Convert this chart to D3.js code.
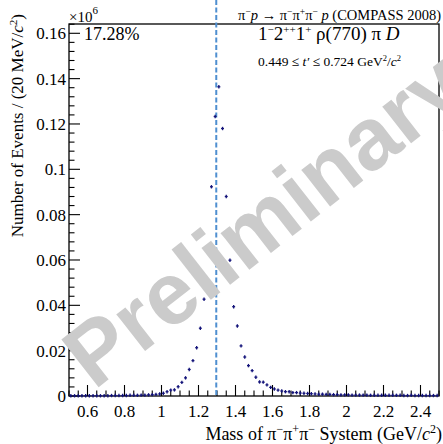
<!DOCTYPE html>
<html>
<head>
<meta charset="utf-8">
<script src="https://cdn.jsdelivr.net/npm/d3@7"></script>
<style>
  html, body { margin: 0; padding: 0; background: #fff; }
  svg { display: block; }
  text { font-family: "Liberation Serif", "Times New Roman", serif; fill: #000; }
</style>
</head>
<body>
<script>
// Mass bin centres (GeV/c^2), 20 MeV bins
const massBins = [
  0.51, 0.53, 0.55, 0.57, 0.59, 0.61, 0.63, 0.65, 0.67, 0.69,
  0.71, 0.73, 0.75, 0.77, 0.79, 0.81, 0.83, 0.85, 0.87, 0.89,
  0.91, 0.93, 0.95, 0.97, 0.99, 1.01, 1.03, 1.05, 1.07, 1.09,
  1.11, 1.13, 1.15, 1.17, 1.19, 1.21, 1.23, 1.25, 1.27, 1.29,
  1.31, 1.33, 1.35, 1.37, 1.39, 1.41, 1.43, 1.45, 1.47, 1.49,
  1.51, 1.53, 1.55, 1.57, 1.59, 1.61, 1.63, 1.65, 1.67, 1.69,
  1.71, 1.73, 1.75, 1.77, 1.79, 1.81, 1.83, 1.85, 1.87, 1.89,
  1.91, 1.93, 1.95, 1.97, 1.99, 2.01, 2.03, 2.05, 2.07, 2.09,
  2.11, 2.13, 2.15, 2.17, 2.19, 2.21, 2.23, 2.25, 2.27, 2.29,
  2.31, 2.33, 2.35, 2.37, 2.39, 2.41, 2.43, 2.45, 2.47, 2.49
];

// Intensity per bin, in units of 10^6 events
const intensity = [
  0.0001, 0.0001, 0.0001, 0.0001, 0.0001, 0.0001, 0.0001, 0.0001, 0.0001, 0.0001,
  0.0001, 0.0002, 0.0002, 0.0002, 0.0002, 0.0002, 0.0003, 0.0003, 0.0003, 0.0004,
  0.0004, 0.0005, 0.0006, 0.0007, 0.0009, 0.0012, 0.0019, 0.0026, 0.0027, 0.0041,
  0.0060, 0.0080, 0.0117, 0.0156, 0.0213, 0.0299, 0.0427, 0.0660, 0.0923, 0.1233,
  0.1364, 0.1180, 0.0880, 0.0599, 0.0394, 0.0309, 0.0221, 0.0172, 0.0134, 0.0112,
  0.0083, 0.0062, 0.0061, 0.0049, 0.0038, 0.0031, 0.0026, 0.0022, 0.0019, 0.0019,
  0.0015, 0.0015, 0.0013, 0.0012, 0.0011, 0.0010, 0.0009, 0.0008, 0.0008, 0.0007,
  0.0007, 0.0006, 0.0006, 0.0005, 0.0005, 0.0005, 0.0004, 0.0004, 0.0004, 0.0004,
  0.0004, 0.0003, 0.0003, 0.0003, 0.0003, 0.0003, 0.0003, 0.0003, 0.0003, 0.0003,
  0.0002, 0.0002, 0.0003, 0.0002, 0.0002, 0.0002, 0.0002, 0.0002, 0.0002, 0.0002
];

const xTickValues = [0.6, 0.8, 1.0, 1.2, 1.4, 1.6, 1.8, 2.0, 2.2, 2.4];
const yTickValues = [0, 0.02, 0.04, 0.06, 0.08, 0.10, 0.12, 0.14, 0.16];
const markerMass = 1.296;      // dashed reference line
const binWidth = 0.02;
const xDomain = [0.5, 2.5];
const yDomain = [0, 0.1641];

const W = 443, H = 444;
const margin = { left: 69, right: 4, top: 24, bottom: 48 };
const iw = W - margin.left - margin.right;
const ih = H - margin.top - margin.bottom;

const svg = d3.select("body").append("svg").attr("width", W).attr("height", H);

const x = d3.scaleLinear().domain(xDomain).range([margin.left, margin.left + iw]);
const y = d3.scaleLinear().domain(yDomain).range([margin.top + ih, margin.top]);

// frame
svg.append("rect")
  .attr("x", x(xDomain[0])).attr("y", y(yDomain[1]))
  .attr("width", iw).attr("height", ih)
  .attr("fill", "none").attr("stroke", "#000").attr("stroke-width", 1.3);

// y ticks (inward)
const yMinor = d3.range(0, yDomain[1] + 1e-9, 0.004);
svg.append("g").selectAll("line").data(yMinor).join("line")
  .attr("x1", x(xDomain[0])).attr("x2", d => x(xDomain[0]) + (Math.abs(d / 0.02 - Math.round(d / 0.02)) < 1e-6 ? 11 : 5.5))
  .attr("y1", d => y(d)).attr("y2", d => y(d))
  .attr("stroke", "#000").attr("stroke-width", 1.1);

svg.append("g").selectAll("text").data(yTickValues).join("text")
  .attr("x", x(xDomain[0]) - 3).attr("y", d => y(d))
  .attr("dy", "0.35em").attr("text-anchor", "end")
  .attr("font-size", 17)
  .text(d => d3.format("~g")(d));

// x ticks (inward)
const xMinor = d3.range(xDomain[0], xDomain[1] + 1e-9, 0.05);
svg.append("g").selectAll("line").data(xMinor).join("line")
  .attr("x1", d => x(d)).attr("x2", d => x(d))
  .attr("y1", y(0)).attr("y2", d => y(0) - (Math.abs(d / 0.2 - Math.round(d / 0.2)) < 1e-6 ? 11 : 5.5))
  .attr("stroke", "#000").attr("stroke-width", 1.1);

svg.append("g").selectAll("text").data(xTickValues).join("text")
  .attr("x", d => x(d)).attr("y", y(0) + 21)
  .attr("text-anchor", "middle")
  .attr("font-size", 17)
  .text(d => d3.format("~g")(d));

// exponent label
const expo = svg.append("text").attr("x", x(xDomain[0])).attr("y", 22).attr("font-size", 15);
expo.append("tspan").text("×10");
expo.append("tspan").attr("dy", -8).attr("font-size", 11).text("6");

// dashed reference line
svg.append("line")
  .attr("x1", x(markerMass)).attr("x2", x(markerMass))
  .attr("y1", 0).attr("y2", y(0))
  .attr("stroke", "#4f8fd0").attr("stroke-width", 2)
  .attr("stroke-dasharray", "5,2.5");

// data points with error crosses
const pts = svg.append("g");
massBins.forEach((m, i) => {
  const v = intensity[i];
  const cx = x(m), cy = y(v);
  const hw = (x(m + binWidth / 2) - x(m - binWidth / 2)) * 0.4;
  pts.append("line").attr("x1", cx - hw).attr("x2", cx + hw).attr("y1", cy).attr("y2", cy)
    .attr("stroke", "#14147a").attr("stroke-width", 1.3);
  pts.append("line").attr("x1", cx).attr("x2", cx).attr("y1", cy - 1.7).attr("y2", cy + 1.7)
    .attr("stroke", "#14147a").attr("stroke-width", 1.3);
});

// axis titles
const xt = svg.append("text").attr("x", W - 1).attr("y", 440).attr("text-anchor", "end").attr("font-size", 18);
xt.append("tspan").text("Mass of π");
xt.append("tspan").attr("dy", -7).attr("font-size", 12).text("−");
xt.append("tspan").attr("dy", 7).text("π");
xt.append("tspan").attr("dy", -7).attr("font-size", 12).text("+");
xt.append("tspan").attr("dy", 7).text("π");
xt.append("tspan").attr("dy", -7).attr("font-size", 12).text("−");
xt.append("tspan").attr("dy", 7).text(" System (GeV/");
xt.append("tspan").attr("font-style", "italic").text("c");
xt.append("tspan").attr("dy", -7).attr("font-size", 12).text("2");
xt.append("tspan").attr("dy", 7).text(")");

const yt = svg.append("text").attr("transform", "translate(23,14) rotate(-90)")
  .attr("text-anchor", "end").attr("font-size", 17);
yt.append("tspan").text("Number of Events / (20 MeV/");
yt.append("tspan").attr("font-style", "italic").text("c");
yt.append("tspan").attr("dy", -6).attr("font-size", 11).text("2");
yt.append("tspan").attr("dy", 6).text(")");

// reaction title
const tt = svg.append("text").attr("x", W - 2).attr("y", 20).attr("text-anchor", "end").attr("font-size", 14.5);
tt.append("tspan").text("π");
tt.append("tspan").attr("dy", -5).attr("font-size", 9.5).text("−");
tt.append("tspan").attr("dy", 5).attr("font-style", "italic").text("p");
tt.append("tspan").text(" → π");
tt.append("tspan").attr("dy", -5).attr("font-size", 9.5).text("−");
tt.append("tspan").attr("dy", 5).text("π");
tt.append("tspan").attr("dy", -5).attr("font-size", 9.5).text("+");
tt.append("tspan").attr("dy", 5).text("π");
tt.append("tspan").attr("dy", -5).attr("font-size", 9.5).text("−");
tt.append("tspan").attr("dy", 5).text(" ");
tt.append("tspan").attr("font-style", "italic").text("p");
tt.append("tspan").text(" (COMPASS 2008)");

// fraction label
svg.append("text").attr("x", 84).attr("y", 40).attr("font-size", 18).text("17.28%");

// wave label
const wl = svg.append("text").attr("x", 258).attr("y", 40).attr("font-size", 19);
wl.append("tspan").text("1");
wl.append("tspan").attr("dy", -7).attr("font-size", 11).text("−");
wl.append("tspan").attr("dy", 7).text("2");
wl.append("tspan").attr("dy", -7).attr("font-size", 11).text("++");
wl.append("tspan").attr("dy", 7).text("1");
wl.append("tspan").attr("dy", -7).attr("font-size", 11).text("+");
wl.append("tspan").attr("dy", 7).text(" ρ(770) π ");
wl.append("tspan").attr("font-style", "italic").text("D");

// t' range label
const tr = svg.append("text").attr("x", 258).attr("y", 66).attr("font-size", 13.5);
tr.append("tspan").text("0.449 ≤ ");
tr.append("tspan").attr("font-style", "italic").text("t′");
tr.append("tspan").text(" ≤ 0.724 GeV");
tr.append("tspan").attr("dy", -5).attr("font-size", 8.5).text("2");
tr.append("tspan").attr("dy", 5).text("/");
tr.append("tspan").attr("font-style", "italic").text("c");
tr.append("tspan").attr("dy", -5).attr("font-size", 8.5).text("2");

// watermark
svg.append("text")
  .attr("transform", "translate(264,219) rotate(-38)")
  .attr("text-anchor", "middle").attr("dy", "0.35em")
  .style("font-family", "'Liberation Sans', Arial, sans-serif")
  .attr("font-weight", "bold").attr("font-size", 88)
  .style("fill", "#cbcbcb")
  .text("Preliminary");
</script>
</body>
</html>
